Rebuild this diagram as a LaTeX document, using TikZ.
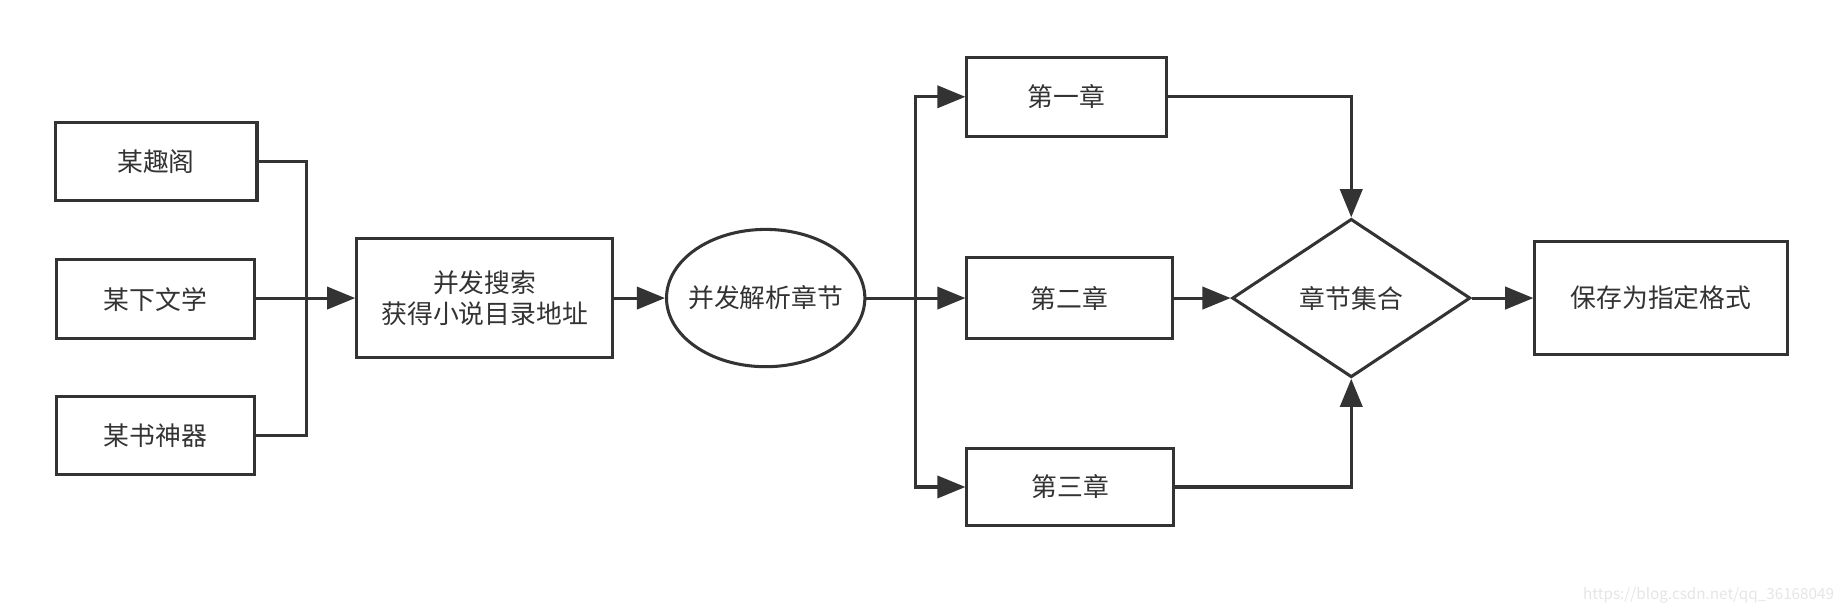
\documentclass[tikz,border=0pt]{standalone}
\usepackage{fontspec}
\setmainfont{Noto Sans CJK SC}
\usetikzlibrary{shapes.geometric,arrows.meta}
\definecolor{ink}{HTML}{333333}

\begin{document}
\begin{tikzpicture}[x=0.5pt,y=0.5pt,yscale=-1,
  font=\fontsize{11}{13.5}\selectfont, text=ink,
  box/.style={draw=ink, line width=1.3pt, inner sep=0pt, align=center},
  line/.style={draw=ink, line width=1.3pt},
  flow/.style={line, -{Triangle[length=12pt,width=9.5pt]}}]
\useasboundingbox (0,0) rectangle (1568,523);

%Shape: Rectangle [sources]
\node [box, minimum width=86pt, minimum height=33.5pt] (qu) at (133,137.5) {某趣阁};
\node [box, minimum width=84.5pt, minimum height=33.5pt] (xia) at (132.5,255) {某下文学};
\node [box, minimum width=84.5pt, minimum height=33pt] (shu) at (132.5,371) {某书神器};

%Shape: Rectangle [search]
\node [box, minimum width=109pt, minimum height=51pt] (search) at (413,254) {并发搜索\\获得小说目录地址};

%Shape: Ellipse [parse]
\node [box, ellipse, inner xsep=-3.3pt, minimum width=84.5pt, minimum height=58.5pt] (parse) at (652.5,254) {并发解析章节};

%Shape: Rectangle [chapters]
\node [box, minimum width=85pt, minimum height=33.5pt] (c1) at (909,82.5) {第一章};
\node [box, minimum width=87.5pt, minimum height=34.5pt] (c2) at (911.5,254) {第二章};
\node [box, minimum width=88pt, minimum height=33pt] (c3) at (912,415) {第三章};

%Shape: Diamond [collect]
\node [box, diamond, minimum width=101.5pt, minimum height=67.5pt] (collect) at (1151.5,254) {章节集合};

%Shape: Rectangle [save]
\node [box, minimum width=107.5pt, minimum height=48.5pt] (save) at (1415.5,254) {保存为指定格式};

% Text Node
\node [text=black!10, font=\fontsize{6.5}{8}\selectfont] (mark) at (1456,507) {https://blog.csdn.net/qq\_36168049};

\coordinate (merge) at (261,254);
\coordinate (split) at (780,254);

%Straight Lines
\draw [line] (qu.east) -| (merge);
\draw [line] (shu.east) -| (merge);
\draw [line] (xia.east |- merge) -- (merge);
\draw [flow] (merge) -- (search.west);
\draw [flow] (search) -- (parse);

%Straight Lines
\draw [line] (parse) -- (split);
\draw [flow] (split) |- (c1.west);
\draw [flow] (split) -- (c2);
\draw [flow] (split) |- (c3.west);

%Straight Lines
\draw [flow] (c1.east) -| (collect.north);
\draw [flow] (c2) -- (collect);
\draw [flow] (c3.east) -| (collect.south);
\draw [flow] (collect) -- (save);

\end{tikzpicture}
\end{document}
